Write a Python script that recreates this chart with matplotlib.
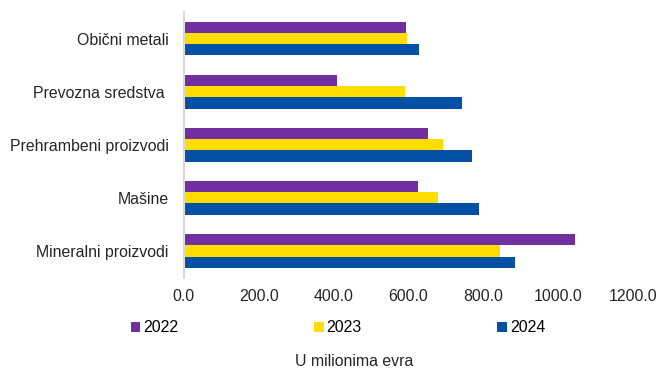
import matplotlib
matplotlib.use("Agg")
import matplotlib.pyplot as plt
import numpy as np
from matplotlib.patches import Patch

plt.rcParams["font.family"] = ["Liberation Sans", "DejaVu Sans"]

# bottom to top
categories = ["Mineralni proizvodi", "Mašine", "Prehrambeni proizvodi",
              "Prevozna sredstva ", "Obični metali"]
years = ["2022", "2023", "2024"]
values_2022 = [1045, 625, 653, 410, 594]
values_2023 = [845, 680, 692, 591, 595]
values_2024 = [885, 789, 769, 742, 627]
colors = ["#7030A0", "#FFDD00", "#0450A4"]
xticks = [0, 200, 400, 600, 800, 1000, 1200]

FS = 11.4

fig = plt.figure(figsize=(6.59, 3.70), dpi=100)
ax = fig.add_axes([0.279, 0.25, 0.6815, 0.717])

y = np.arange(len(categories))
h = 0.21
for vals, off, col in zip([values_2022, values_2023, values_2024], [h, 0, -h], colors):
    ax.barh(y + off, vals, height=h, color=col)

ax.set_ylim(-0.5, len(categories) - 0.5)
ax.set_xlim(0, 1200)
ax.set_yticks(y)
ax.set_yticklabels(categories, fontsize=FS, color="#262626")
ax.set_xticks(xticks)
ax.set_xticklabels([f"{v:.1f}" for v in xticks], fontsize=FS, color="#262626")
ax.tick_params(axis="both", length=0)
ax.tick_params(axis="x", pad=8)
ax.tick_params(axis="y", pad=11)
for s in ["top", "right", "bottom"]:
    ax.spines[s].set_visible(False)
ax.spines["left"].set_color("#D9D9D9")
ax.spines["left"].set_linewidth(1.5)

handles = [Patch(facecolor=c) for c in colors]
fig.legend(handles, years, loc="center", bbox_to_anchor=(0.513, 1 - 328 / 370),
           ncol=3, frameon=False, fontsize=FS, handlelength=0.6, handleheight=0.6,
           handletextpad=0.2, columnspacing=8.55)
fig.text(0.537, 1 - 362 / 370, "U milionima evra", ha="center", va="center",
         fontsize=FS, color="#262626")

fig.savefig("out.png", dpi=100)
